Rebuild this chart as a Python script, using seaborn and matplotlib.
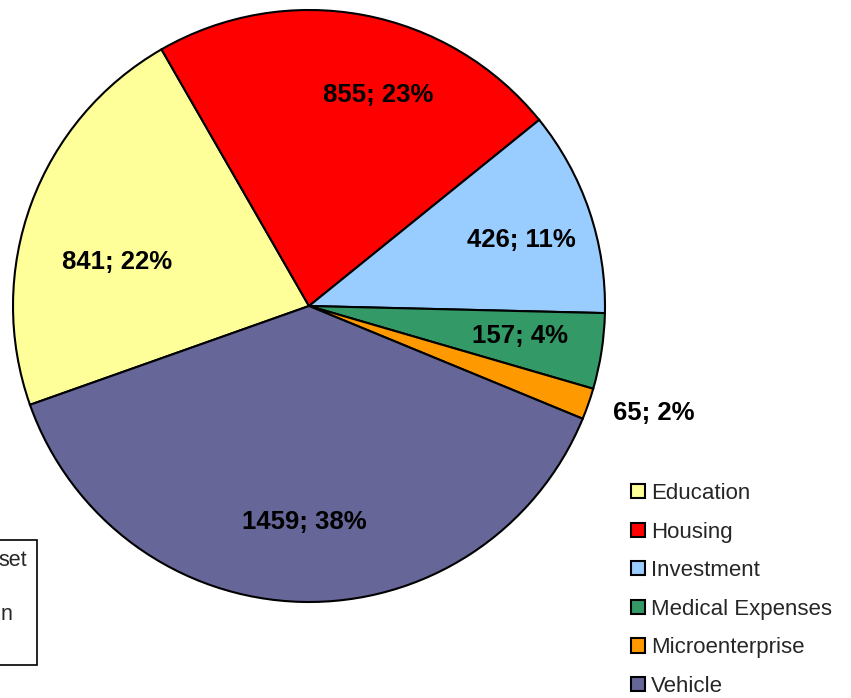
import numpy as np
import matplotlib
matplotlib.use('Agg')
import matplotlib.pyplot as plt
import matplotlib.patches as mpatches
import seaborn as sns

# data
categories = ['Education', 'Housing', 'Investment', 'Medical Expenses', 'Microenterprise', 'Vehicle']
counts = [841, 855, 426, 157, 65, 1459]
pct_labels = ['22%', '23%', '11%', '4%', '2%', '38%']
colors = ['#FFFF99', '#FF0000', '#99CCFF', '#339966', '#FF9900', '#666699']

sns.set_theme(style='white')
plt.rcParams['font.family'] = ['Liberation Sans', 'DejaVu Sans']

fig = plt.figure(figsize=(8.51, 6.98), dpi=100)

# pie centre (309, 306) px, radius 296 px
cx, cy, R = 309, 306, 296
W, H = 851, 698
ax = fig.add_axes([(cx - R) / W, (H - cy - R) / H, 2 * R / W, 2 * R / H])

wedges, _ = ax.pie(counts, colors=colors, startangle=199.5, counterclock=False,
                   wedgeprops=dict(edgecolor='black', linewidth=1.5))
ax.set_xlim(-1, 1)
ax.set_ylim(-1, 1)
ax.set_aspect('auto')
ax.axis('off')

# label placement: radius fraction and angle nudge per slice
lab_r = [0.665, 0.75, 0.75, 0.72, 1.22, 0.73]
lab_da = [7.5, -7.5, -1.5, 0.8, 2.1, 0.2]
for w, n, p, r, da in zip(wedges, counts, pct_labels, lab_r, lab_da):
    mid = np.deg2rad((w.theta1 + w.theta2) / 2 + da)
    ax.text(r * np.cos(mid), r * np.sin(mid), f'{n}; {p}', ha='center', va='center',
            fontsize=18.5, fontweight='bold', color='black', clip_on=False)

# legend, lower right (last row touches the bottom edge)
handles = [mpatches.Patch(facecolor=c, edgecolor='black', linewidth=1.5) for c in colors]
fig.legend(handles, categories, loc='upper left', bbox_to_anchor=(631 / W, 1 - 483 / H),
           frameon=False, fontsize=16, handlelength=0.62, handleheight=0.62,
           handletextpad=0.28, labelspacing=0.79, borderaxespad=0, borderpad=0)

# partly visible text box at the left edge
box = mpatches.Rectangle((-0.05, 1 - 665 / H), 0.05 + 37 / W, 125 / H, transform=fig.transFigure,
                         facecolor='white', edgecolor='black', linewidth=1.2)
fig.add_artist(box)
fig.text(27 / W, 1 - 560 / H, 'set', ha='right', va='center', fontsize=15.5)
fig.text(1 / W, 1 - 615 / H, 'n', ha='left', va='center', fontsize=15.5)

fig.savefig('out.png', dpi=100)
